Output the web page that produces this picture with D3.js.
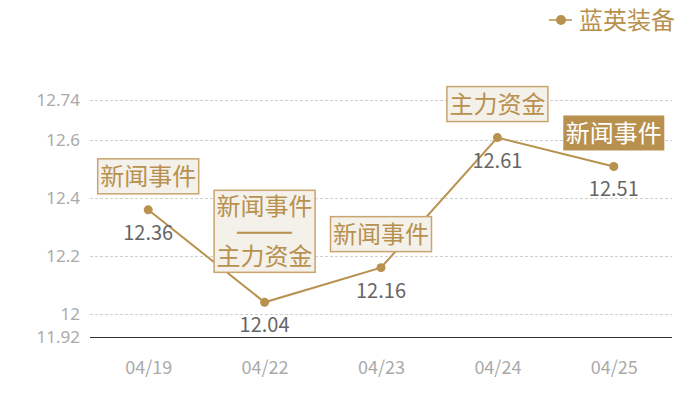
<!DOCTYPE html>
<html>
<head>
<meta charset="utf-8">
<script src="https://cdn.jsdelivr.net/npm/d3@7"></script>
<style>
  body { margin: 0; background: #fff; }
  text { font-family: "Noto Sans CJK SC", "Noto Sans", sans-serif; }
</style>
</head>
<body>
<div id="chart"></div>
<script>
var dates = ["04/19", "04/22", "04/23", "04/24", "04/25"];
var prices = [12.36, 12.04, 12.16, 12.61, 12.51];
var events = [["新闻事件"], ["新闻事件", "——", "主力资金"], ["新闻事件"], ["主力资金"], ["新闻事件"]];
var highlighted = [false, false, false, false, true];
var yTicks = [11.92, 12, 12.2, 12.4, 12.6, 12.74];
var seriesName = "蓝英装备";

var gold = "#b8914f";
var width = 700, height = 400;
var margin = { top: 100, right: 28, bottom: 63, left: 90 };

var svg = d3.select("#chart").append("svg")
  .attr("width", width)
  .attr("height", height);

var x = d3.scalePoint()
  .domain(dates)
  .range([margin.left, width - margin.right])
  .padding(0.5);

var y = d3.scaleLinear()
  .domain([11.92, 12.74])
  .range([height - margin.bottom, margin.top]);

// grid
svg.append("g")
  .selectAll("line")
  .data(yTicks.filter((d) => d != 11.92))
  .enter()
  .append("line")
  .attr("x1", margin.left)
  .attr("x2", width - margin.right)
  .attr("y1", (d) => Math.round(y(d)) + 0.5)
  .attr("y2", (d) => Math.round(y(d)) + 0.5)
  .style("stroke", "#d0d0d0")
  .style("stroke-dasharray", "3,2");

// y axis labels
var yAxis = svg.append("g")
  .attr("transform", "translate(" + margin.left + ",0)")
  .call(d3.axisLeft(y).tickValues(yTicks).tickSize(0).tickPadding(10).tickFormat((d) => String(d)));
yAxis.select(".domain").remove();
yAxis.selectAll("text")
  .style("fill", "#aaa")
  .style("font-family", "'Noto Sans', sans-serif")
  .style("font-size", "17px");

// x axis
var xAxis = svg.append("g")
  .attr("transform", "translate(0," + (Math.round(y(11.92)) + 0.5) + ")")
  .call(d3.axisBottom(x).tickSize(0).tickPadding(24));
xAxis.select(".domain")
  .attr("d", "M" + margin.left + ",0H" + (width - margin.right))
  .style("stroke", "#333");
xAxis.selectAll("text").style("fill", "#aaa").style("font-size", "18px");

// line
var line = d3.line()
  .x((d, i) => x(dates[i]))
  .y((d) => y(d));

svg.append("path")
  .datum(prices)
  .attr("d", line)
  .style("fill", "none")
  .style("stroke", gold)
  .style("stroke-width", 2);

svg.append("g")
  .selectAll("circle")
  .data(prices)
  .enter()
  .append("circle")
  .attr("cx", (d, i) => x(dates[i]))
  .attr("cy", (d) => y(d))
  .attr("r", 4.5)
  .style("fill", gold);

// value labels
svg.append("g")
  .selectAll("text")
  .data(prices)
  .enter()
  .append("text")
  .attr("x", (d, i) => x(dates[i]))
  .attr("y", (d) => y(d) + 30)
  .attr("text-anchor", "middle")
  .style("fill", "#666")
  .style("font-size", "20px")
  .text((d) => d.toFixed(2));

// event boxes
var boxW = 101;
events.forEach(function (ev, i) {
  var cx = x(dates[i]);
  var h = ev.length == 1 ? 35 : 82;
  var gap = ev.length == 1 ? 16 : 30;
  var bottom = y(prices[i]) - gap;
  var color = highlighted[i] ? "#fff" : gold;
  var g = svg.append("g");
  g.append("rect")
    .attr("x", cx - boxW / 2)
    .attr("y", bottom - h)
    .attr("width", boxW)
    .attr("height", h)
    .style("fill", highlighted[i] ? gold : "#f4f0ea")
    .style("stroke", highlighted[i] ? "none" : "#c9a46e")
    .style("stroke-width", 1.5);
  var step = ev.length == 1 ? 0 : 25;
  var top = bottom - h / 2 - step * (ev.length - 1) / 2;
  var txt = g.append("text")
    .attr("text-anchor", "middle")
    .style("fill", color)
    .style("font-size", "24px");
  ev.forEach(function (t, j) {
    var isDash = t.indexOf("—") == 0;
    var ts = txt.append("tspan")
      .attr("x", cx)
      .attr("y", top + j * step + (isDash ? 3.2 : 8.6))
      .text(t);
    if (isDash) {
      ts.attr("textLength", 52).attr("lengthAdjust", "spacingAndGlyphs")
        .style("font-size", "8px")
        .style("stroke", color).style("stroke-width", 1.5);
    }
  });
});

// legend
var legend = svg.append("g").attr("transform", "translate(549,20)");
legend.append("line")
  .attr("x1", 0).attr("x2", 23)
  .style("stroke", gold).style("stroke-width", 1.5);
legend.append("circle").attr("cx", 12).attr("r", 5).style("fill", gold);
legend.append("text")
  .attr("x", 30)
  .attr("dy", "0.36em")
  .style("fill", gold)
  .style("font-size", "24px")
  .text(seriesName);
</script>
</body>
</html>
